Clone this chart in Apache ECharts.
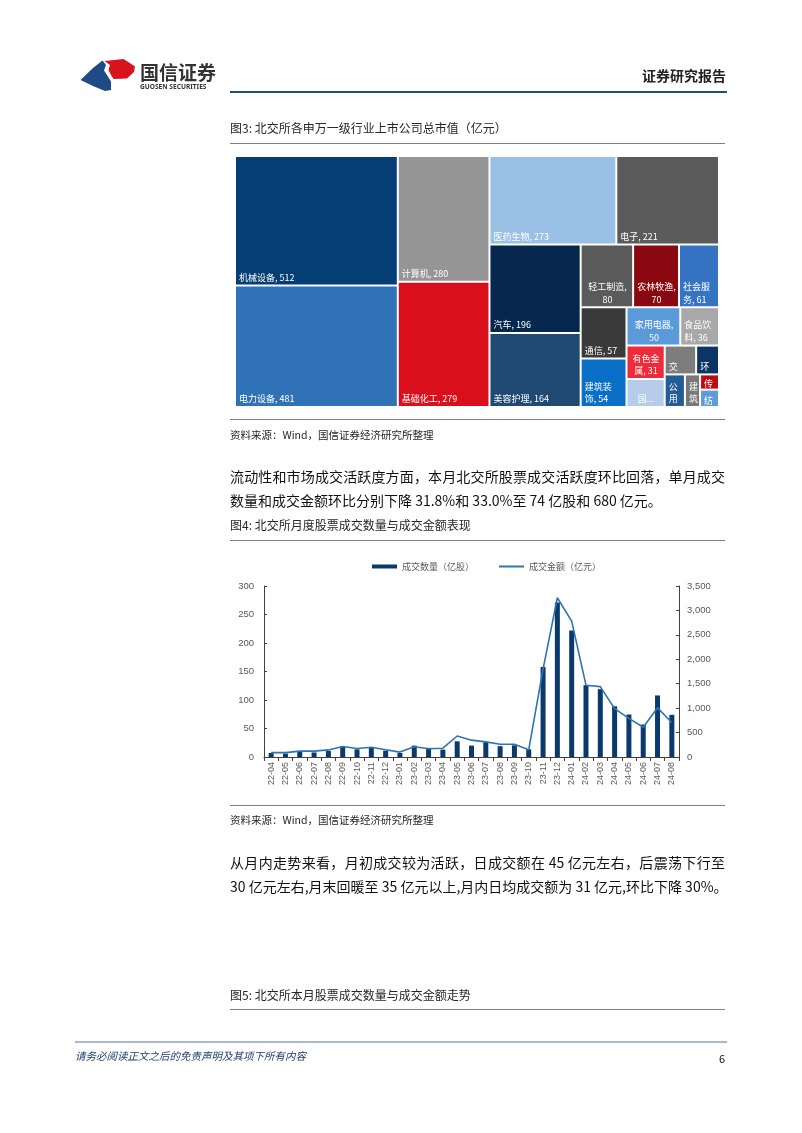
<!DOCTYPE html>
<html>
<head>
<meta charset="utf-8">
<script src="https://cdn.jsdelivr.net/npm/echarts@6/dist/echarts.min.js"></script>
<style>
html,body{margin:0;padding:0;background:#fff;}
#page{position:relative;width:802px;height:1133px;overflow:hidden;font-family:"Noto Sans CJK SC","Noto Sans",sans-serif;}
#c{position:absolute;left:0;top:0;width:802px;height:1133px;}
.t{position:absolute;white-space:nowrap;line-height:20px;height:20px;pointer-events:none;}
.hr{position:absolute;pointer-events:none;}
.cap{font-size:12px;color:#262626;}
.src{font-size:10.5px;color:#262626;}
.para{font-size:14px;color:#111;width:495px;text-align:justify;text-align-last:justify;}
</style>
</head>
<body>
<div id="page">
<div id="c"></div>

<svg style="position:absolute;left:0;top:0;" width="160" height="100">
  <polygon points="80.5,80 93,68 102.5,60.5 106,65 104,70.5 107,75 111,81.5 111,90 105,91 93,86" fill="#1F4A85"/>
  <polygon points="104.5,61 123.5,59 129,62.5 135,66.5 134,72 127,78.5 113.5,79 111,75 108.5,70 110,65" fill="#D7141E"/>
</svg>
<div class="t" style="left:140px;top:61.5px;font-size:19px;font-weight:bold;color:#333;">国信证券</div>
<div class="t" style="left:140px;top:77px;font-size:6.6px;font-weight:bold;color:#333;font-family:'Noto Sans',sans-serif;">GUOSEN SECURITIES</div>
<div class="t" style="left:642px;top:65px;font-size:14px;font-weight:bold;color:#222;">证券研究报告</div>
<div class="hr" style="left:230px;top:91px;width:497px;height:2px;background:#264B7D;"></div>

<div class="t cap" style="left:230px;top:118px;">图3: 北交所各申万一级行业上市公司总市值（亿元）</div>
<div class="hr" style="left:230px;top:143px;width:495px;height:1px;background:#808080;"></div>
<div class="hr" style="left:230px;top:419px;width:495px;height:1px;background:#808080;"></div>
<div class="t src" style="left:230px;top:425px;">资料来源：Wind，国信证券经济研究所整理</div>

<div class="t para" style="left:230px;top:466px;">流动性和市场成交活跃度方面，本月北交所股票成交活跃度环比回落，单月成交</div>
<div class="t" style="left:230px;top:490px;font-size:14px;color:#111;">数量和成交金额环比分别下降 31.8%和 33.0%至 74 亿股和 680 亿元。</div>

<div class="t cap" style="left:230px;top:515px;">图4: 北交所月度股票成交数量与成交金额表现</div>
<div class="hr" style="left:230px;top:540px;width:495px;height:1px;background:#808080;"></div>
<div class="hr" style="left:230px;top:805px;width:495px;height:1px;background:#808080;"></div>
<div class="t src" style="left:230px;top:810px;">资料来源：Wind，国信证券经济研究所整理</div>

<div class="t para" style="left:230px;top:852px;">从月内走势来看，月初成交较为活跃，日成交额在 45 亿元左右，后震荡下行至</div>
<div class="t para" style="left:230px;top:876px;">30 亿元左右,月末回暖至 35 亿元以上,月内日均成交额为 31 亿元,环比下降 30%。</div>

<div class="t cap" style="left:230px;top:985px;">图5: 北交所本月股票成交数量与成交金额走势</div>
<div class="hr" style="left:230px;top:1009px;width:495px;height:1px;background:#808080;"></div>

<div class="hr" style="left:75px;top:1041px;width:652px;height:2px;background:#A9B9CC;"></div>
<div class="t" style="left:75px;top:1046px;font-size:10.5px;font-style:italic;color:#1F3F73;">请务必阅读正文之后的免责声明及其项下所有内容</div>
<div class="t" style="left:719px;top:1048px;font-size:11px;color:#111;">6</div>
</div>

<script>
// ---------- Figure 3: treemap data ----------
const industryNames = ['机械设备','电力设备','计算机','基础化工','医药生物','电子','汽车','美容护理',
  '轻工制造','农林牧渔','社会服务','通信','建筑装饰','家用电器','食品饮料','有色金属','国防军工',
  '交通运输','环保','公用事业','建筑材料','传媒','纺织服饰'];
const industryValues = [512,481,280,279,273,221,196,164,80,70,61,57,54,50,36,31,26,22,16,16,12,7,8];
const industryColors = ['#043E74','#2F72B6','#959595','#D90F1C','#9BC0E5','#5B5B5B','#06284E','#204A74',
  '#5A5A5A','#8A0910','#3574C3','#3A3A3A','#0A6FC7','#5A9AD8','#A8A8A8','#EE2B39','#B5CDEA',
  '#7D7D7D','#0C3466','#245C96','#787878','#BF0A12','#5D9BD9'];
const industryLabels = ['{b}, {c}','{b}, {c}','{b}, {c}','{b}, {c}','{b}, {c}','{b}, {c}','{b}, {c}','{b}, {c}',
  '{b},\n{c}','{b},\n{c}','社会服\n务, {c}','{b}, {c}','建筑装\n饰, {c}','{b},\n{c}','食品饮\n料, {c}',
  '有色金\n属, {c}','国...','交','环','公\n用','建\n筑','传','纺'];
// L = bottom-left, C = bottom-centre, S = bottom-left in a very small cell
const industryLabelAlign = ['L','L','L','L','L','L','L','L','C','C','L','L','L','C','L','C','C','L','L','L','L','S','S'];
// grouping of industry indices (mirrors the block arrangement of the original figure)
const layoutTree = [[0,1],[[2,3],[[4,5],[[6,7],[[8,9,10],[[11,12],[[13,14],[[15,16],[[17,18],[19,20,[21,22]]]]]]]]]]];

// ---------- Figure 4: monthly data ----------
const months = ['22-04','22-05','22-06','22-07','22-08','22-09','22-10','22-11','22-12',
  '23-01','23-02','23-03','23-04','23-05','23-06','23-07','23-08','23-09','23-10','23-11','23-12',
  '24-01','24-02','24-03','24-04','24-05','24-06','24-07','24-08'];
const volume = [7,6,9,8,10.5,19,13.5,16,11,7,20,16,13,27.5,20,26,19,20.5,13.5,158,271,222,126,119,89,74.5,57,108,74];
const amount = [90,90,120,120,145,215,175,200,150,100,210,170,180,430,345,310,260,260,150,1800,3260,2780,1470,1440,990,790,610,1010,700];
const leftAxisTicks = {min:0, max:300, interval:50};
const rightAxisTicks = {min:0, max:3500, interval:500};

let gid = 0;
function build(node) {
  if (typeof node === 'number') {
    const i = node, a = industryLabelAlign[i], c = a === 'C';
    const label = {formatter: industryLabels[i], position: c ? 'insideBottom' : 'insideBottomLeft', align: c ? 'center' : 'left'};
    if (a === 'S') { label.lineHeight = 10; label.padding = [0, 1, 0, 3]; }
    return {
      name: industryNames[i], value: industryValues[i],
      itemStyle: {color: industryColors[i], borderWidth: 1, borderColor: '#fff'},
      label: label
    };
  }
  return {name: 'grp' + (gid++), children: node.map(build), label: {show: false},
          itemStyle: {borderWidth: 0, gapWidth: 0}};
}
const treeData = layoutTree.map(build);

const chart = echarts.init(document.getElementById('c'));
chart.setOption({
  animation: false,
  legend: {
    left: 367, top: 557, itemWidth: 25, itemHeight: 4, itemGap: 24, selectedMode: false,
    textStyle: {fontSize: 9, color: '#595959', fontFamily: 'Noto Sans CJK SC'},
    data: [{name: '成交数量（亿股）', icon: 'rect'},
           {name: '成交金额（亿元）', itemStyle: {opacity: 0}}]
  },
  grid: {left: 264, top: 586, width: 415, height: 171},
  xAxis: {
    type: 'category', data: months,
    axisLine: {lineStyle: {color: '#404040', width: 1}},
    axisTick: {show: true, alignWithLabel: false, length: 4, lineStyle: {color: '#404040'}},
    axisLabel: {rotate: 90, interval: 0, fontSize: 9, color: '#595959', margin: 5, fontFamily: 'Liberation Sans'}
  },
  yAxis: [
    {type: 'value', position: 'left', min: leftAxisTicks.min, max: leftAxisTicks.max, interval: leftAxisTicks.interval,
     axisLine: {show: true, lineStyle: {color: '#404040'}},
     axisTick: {show: true, inside: true, length: 3, lineStyle: {color: '#404040'}},
     splitLine: {show: false},
     axisLabel: {fontSize: 9.5, color: '#595959', margin: 10, fontFamily: 'Liberation Sans'}},
    {type: 'value', position: 'right', min: rightAxisTicks.min, max: rightAxisTicks.max, interval: rightAxisTicks.interval,
     axisLine: {show: true, lineStyle: {color: '#404040'}},
     axisTick: {show: true, inside: true, length: 3, lineStyle: {color: '#404040'}},
     splitLine: {show: false},
     axisLabel: {fontSize: 9.5, color: '#595959', margin: 8, fontFamily: 'Liberation Sans',
                 formatter: v => v.toLocaleString('en-US')}}
  ],
  series: [
    {
      type: 'treemap', left: 235, top: 156, width: 484, height: 251,
      roam: false, nodeClick: false, breadcrumb: {show: false}, sort: false, squareRatio: 0.01,
      silent: true,
      itemStyle: {borderWidth: 0, gapWidth: 0, borderColor: '#fff'},
      label: {show: true, color: '#fff', fontSize: 9, fontFamily: 'Noto Sans CJK SC', lineHeight: 12.5,
              padding: [0, 2, 1, 3], overflow: 'none'},
      upperLabel: {show: false},
      data: treeData
    },
    {name: '成交数量（亿股）', type: 'bar', data: volume, barWidth: 5, yAxisIndex: 0,
     itemStyle: {color: '#0A3A6C'}},
    {name: '成交金额（亿元）', type: 'line', data: amount, yAxisIndex: 1, symbol: 'none',
     lineStyle: {color: '#2E74B5', width: 1.6}, itemStyle: {color: '#2E74B5'}}
  ]
});
</script>
</body>
</html>
